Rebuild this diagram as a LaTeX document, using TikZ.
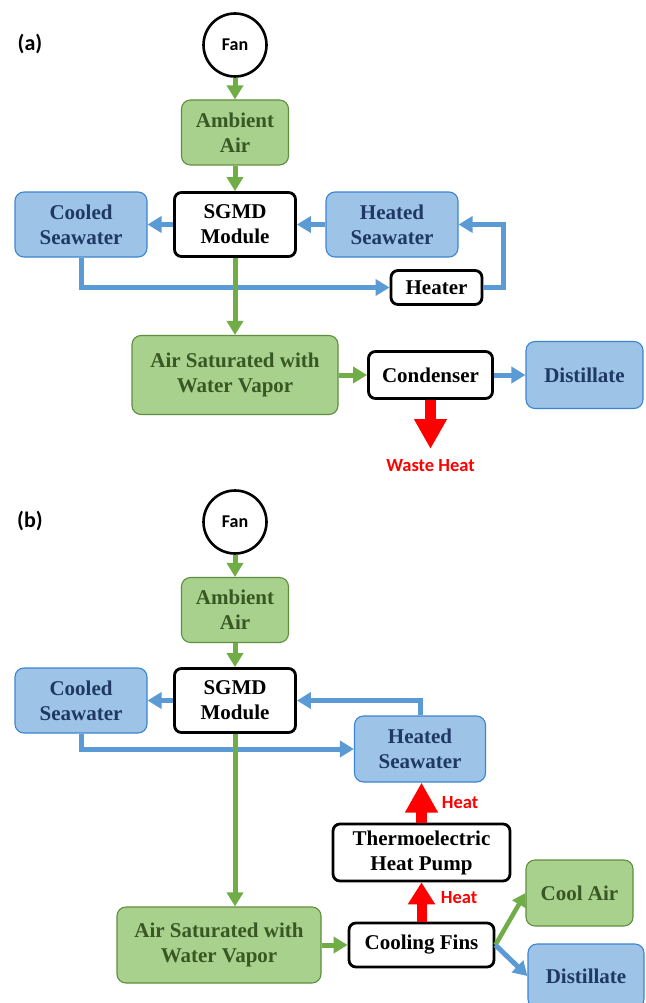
\documentclass[tikz,border=0pt]{standalone}
\usepackage{fontspec}
\setmainfont{Liberation Serif}
\newfontfamily\calib{Carlito}
\usetikzlibrary{arrows.meta}
\definecolor{gfill}{HTML}{A9D18E}
\definecolor{gdraw}{HTML}{5E8E3E}
\definecolor{gtext}{HTML}{385723}
\definecolor{garr}{HTML}{70AD47}
\definecolor{bfill}{HTML}{9DC3E6}
\definecolor{bdraw}{HTML}{3D85D0}
\definecolor{btext}{HTML}{1F3864}
\definecolor{barr}{HTML}{5B9BD5}
\definecolor{hred}{HTML}{FF0000}
\tikzset{
  boxfont/.style={font=\bfseries\fontsize{21}{25}\selectfont, align=center, inner sep=0pt},
  gbox/.style={boxfont, rectangle, rounded corners=9pt, fill=gfill, draw=gdraw, line width=1.1pt, text=gtext},
  bbox/.style={boxfont, rectangle, rounded corners=9pt, fill=bfill, draw=bdraw, line width=1.1pt, text=btext},
  wbox/.style={boxfont, rectangle, rounded corners=7pt, fill=white, draw=black, line width=2.8pt, text=black},
  fanc/.style={circle, draw=black, line width=2.6pt, fill=white, minimum size=63pt, inner sep=0pt,
    font=\calib\bfseries\fontsize{18}{20}\selectfont},
  panel/.style={font=\calib\bfseries\fontsize{22}{24}\selectfont},
  redlbl/.style={text=hred, font=\calib\bfseries\fontsize{18.5}{20}\selectfont, inner sep=0pt},
  garrow/.style={draw=garr, line width=5pt, -{Triangle[width=16pt,length=14pt]}},
  garrowd/.style={draw=garr, line width=4.5pt, -{Triangle[width=15pt,length=13pt]}},
  barrow/.style={draw=barr, line width=5pt, -{Triangle[width=16pt,length=14pt]}},
  rarrowbig/.style={draw=hred, line width=11pt, -{Triangle[width=31pt,length=30pt]}},
  rarrowsmall/.style={draw=hred, line width=10pt, -{Triangle[width=26pt,length=22pt]}},
}
\begin{document}
\begin{tikzpicture}[x=1pt,y=-1pt]
\clip (0,0) rectangle (645,1003);
\fill[white] (0,0) rectangle (645,1003);

% ---------------- panel (a)
\node[panel] (pa) at (30,44) {(a)};
\node[fanc] (fan1) at (235,45) {Fan};
\node[gbox, minimum width=107pt, minimum height=65pt] (amb1) at (235,132.5) {Ambient\\Air};
\node[wbox, minimum width=121pt, minimum height=64pt] (sgmd1) at (235,224.5) {SGMD\\Module};
\node[bbox, minimum width=132pt, minimum height=65pt] (cool1) at (81,224.5) {Cooled\\Seawater};
\node[bbox, minimum width=132pt, minimum height=65pt] (heat1) at (392,224.5) {Heated\\Seawater};
\node[wbox, minimum width=91pt, minimum height=34pt] (heater) at (436.5,287.5) {Heater};
\node[gbox, minimum width=206pt, minimum height=79pt] (sat1) at (235,375) {Air Saturated with\\Water Vapor};
\node[wbox, minimum width=124pt, minimum height=47pt] (cond) at (430.5,375) {Condenser};
\node[bbox, minimum width=117pt, minimum height=67pt] (dist1) at (584.5,375) {Distillate};
\coordinate (whtip) at (430.5,449);
\node[redlbl] (wh) at (430.5,466) {Waste Heat};

\draw[garrow] (fan1) -- (amb1);
\draw[garrow] (amb1) -- (sgmd1);
\draw[barrow] (sgmd1.west) -- (cool1.east);
\draw[barrow] (heat1.west) -- (sgmd1.east);
\draw[barrow] (cool1.south) |- (heater.west);
\draw[barrow] (heater.east) -- ++(20,0) |- (heat1.east);
\draw[garrow] (sgmd1.south) -- (sat1.north);
\draw[garrow] (sat1.east) -- (cond.west);
\draw[barrow] (cond.east) -- (dist1.west);
\draw[rarrowbig] (cond.south) -- (whtip);

% ---------------- panel (b)
\node[panel] (pb) at (30,521) {(b)};
\node[fanc] (fan2) at (235,522) {Fan};
\node[gbox, minimum width=107pt, minimum height=65pt] (amb2) at (235,610) {Ambient\\Air};
\node[wbox, minimum width=121pt, minimum height=64pt] (sgmd2) at (235,700.5) {SGMD\\Module};
\node[bbox, minimum width=132pt, minimum height=65pt] (cool2) at (81,700.5) {Cooled\\Seawater};
\node[bbox, minimum width=131pt, minimum height=66pt] (heat2) at (420,749) {Heated\\Seawater};
\node[wbox, minimum width=177pt, minimum height=57pt] (tehp) at (421.5,852.5) {Thermoelectric\\Heat Pump};
\node[gbox, minimum width=204pt, minimum height=76pt] (sat2) at (219,945) {Air Saturated with\\Water Vapor};
\node[wbox, minimum width=145pt, minimum height=44pt] (fins) at (421.5,945) {Cooling Fins};
\node[gbox, minimum width=107pt, minimum height=66pt] (coolair) at (579.5,893) {Cool Air};
\node[bbox, minimum width=116pt, minimum height=64pt] (dist2) at (586,976) {Distillate};
\node[redlbl] (heatup) at (460,803) {Heat};
\node[redlbl] (heatlow) at (459,898) {Heat};

\draw[garrow] (fan2) -- (amb2);
\draw[garrow] (amb2) -- (sgmd2);
\draw[barrow] (sgmd2.west) -- (cool2.east);
\draw[barrow] (heat2.north) |- (sgmd2.east);
\draw[barrow] (cool2.south) |- (heat2.west);
\draw[garrow] (sgmd2.south) -- (sgmd2.south |- sat2.north);
\draw[garrow] (sat2.east) -- (fins.west);
\draw[rarrowsmall] (fins.north) -- (tehp.south);
\draw[rarrowbig] (tehp.north) -- (tehp.north |- heat2.south);
\draw[garrowd] (fins.east) -- (coolair.west);
\draw[barrow] (fins.east) -- (dist2.west);
\end{tikzpicture}
\end{document}
